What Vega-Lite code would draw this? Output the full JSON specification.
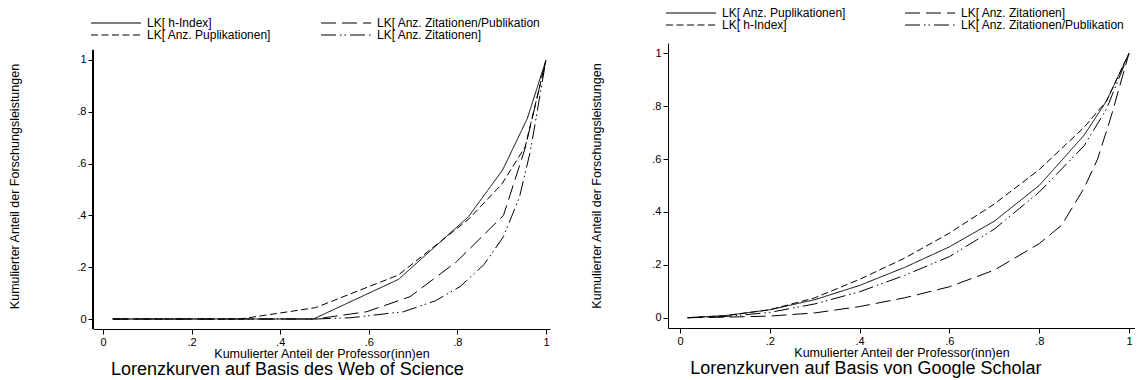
{
  "$schema": "https://vega.github.io/schema/vega-lite/v6.json",
  "padding": {"left": 8, "top": 7, "right": 0, "bottom": 0},
  "background": "white",
  "bounds": "flush",
  "spacing": 118,
  "datasets": {
    "wos": [
      {"s": "LK[ h-Index]", "x": 0.022, "y": 0},
      {"s": "LK[ h-Index]", "x": 0.475, "y": 0},
      {"s": "LK[ h-Index]", "x": 0.667, "y": 0.153},
      {"s": "LK[ h-Index]", "x": 0.825, "y": 0.395},
      {"s": "LK[ h-Index]", "x": 0.902, "y": 0.575},
      {"s": "LK[ h-Index]", "x": 0.958, "y": 0.775},
      {"s": "LK[ h-Index]", "x": 1, "y": 1},
      {"s": "LK[ Anz. Puplikationen]", "x": 0.022, "y": 0},
      {"s": "LK[ Anz. Puplikationen]", "x": 0.31, "y": 0},
      {"s": "LK[ Anz. Puplikationen]", "x": 0.48, "y": 0.044},
      {"s": "LK[ Anz. Puplikationen]", "x": 0.667, "y": 0.17},
      {"s": "LK[ Anz. Puplikationen]", "x": 0.825, "y": 0.385},
      {"s": "LK[ Anz. Puplikationen]", "x": 0.9, "y": 0.52},
      {"s": "LK[ Anz. Puplikationen]", "x": 0.953, "y": 0.665},
      {"s": "LK[ Anz. Puplikationen]", "x": 1, "y": 1},
      {"s": "LK[ Anz. Zitationen/Publikation", "x": 0.022, "y": 0},
      {"s": "LK[ Anz. Zitationen/Publikation", "x": 0.48, "y": 0},
      {"s": "LK[ Anz. Zitationen/Publikation", "x": 0.595, "y": 0.028},
      {"s": "LK[ Anz. Zitationen/Publikation", "x": 0.693, "y": 0.086},
      {"s": "LK[ Anz. Zitationen/Publikation", "x": 0.798, "y": 0.221},
      {"s": "LK[ Anz. Zitationen/Publikation", "x": 0.904, "y": 0.4},
      {"s": "LK[ Anz. Zitationen/Publikation", "x": 0.953, "y": 0.66},
      {"s": "LK[ Anz. Zitationen/Publikation", "x": 1, "y": 1},
      {"s": "LK[ Anz. Zitationen]", "x": 0.022, "y": 0},
      {"s": "LK[ Anz. Zitationen]", "x": 0.48, "y": 0},
      {"s": "LK[ Anz. Zitationen]", "x": 0.56, "y": 0.005},
      {"s": "LK[ Anz. Zitationen]", "x": 0.678, "y": 0.028},
      {"s": "LK[ Anz. Zitationen]", "x": 0.75, "y": 0.07},
      {"s": "LK[ Anz. Zitationen]", "x": 0.806, "y": 0.125},
      {"s": "LK[ Anz. Zitationen]", "x": 0.86, "y": 0.21},
      {"s": "LK[ Anz. Zitationen]", "x": 0.904, "y": 0.318},
      {"s": "LK[ Anz. Zitationen]", "x": 0.94, "y": 0.47},
      {"s": "LK[ Anz. Zitationen]", "x": 0.965, "y": 0.65},
      {"s": "LK[ Anz. Zitationen]", "x": 1, "y": 1}
    ],
    "gs": [
      {"s": "LK[ h-Index]", "x": 0.017, "y": 0},
      {"s": "LK[ h-Index]", "x": 0.1, "y": 0.007},
      {"s": "LK[ h-Index]", "x": 0.2, "y": 0.03},
      {"s": "LK[ h-Index]", "x": 0.3, "y": 0.075},
      {"s": "LK[ h-Index]", "x": 0.4, "y": 0.145},
      {"s": "LK[ h-Index]", "x": 0.5, "y": 0.225},
      {"s": "LK[ h-Index]", "x": 0.6, "y": 0.32},
      {"s": "LK[ h-Index]", "x": 0.7, "y": 0.43},
      {"s": "LK[ h-Index]", "x": 0.8, "y": 0.56},
      {"s": "LK[ h-Index]", "x": 0.9, "y": 0.72},
      {"s": "LK[ h-Index]", "x": 0.95, "y": 0.82},
      {"s": "LK[ h-Index]", "x": 1, "y": 1},
      {"s": "LK[ Anz. Puplikationen]", "x": 0.017, "y": 0},
      {"s": "LK[ Anz. Puplikationen]", "x": 0.1, "y": 0.008},
      {"s": "LK[ Anz. Puplikationen]", "x": 0.2, "y": 0.03},
      {"s": "LK[ Anz. Puplikationen]", "x": 0.3, "y": 0.068},
      {"s": "LK[ Anz. Puplikationen]", "x": 0.4, "y": 0.122},
      {"s": "LK[ Anz. Puplikationen]", "x": 0.5, "y": 0.19},
      {"s": "LK[ Anz. Puplikationen]", "x": 0.6, "y": 0.268},
      {"s": "LK[ Anz. Puplikationen]", "x": 0.7, "y": 0.365},
      {"s": "LK[ Anz. Puplikationen]", "x": 0.8, "y": 0.5},
      {"s": "LK[ Anz. Puplikationen]", "x": 0.9, "y": 0.69},
      {"s": "LK[ Anz. Puplikationen]", "x": 0.95, "y": 0.82},
      {"s": "LK[ Anz. Puplikationen]", "x": 1, "y": 1},
      {"s": "LK[ Anz. Zitationen]", "x": 0.017, "y": 0},
      {"s": "LK[ Anz. Zitationen]", "x": 0.1, "y": 0.002},
      {"s": "LK[ Anz. Zitationen]", "x": 0.2, "y": 0.006},
      {"s": "LK[ Anz. Zitationen]", "x": 0.3, "y": 0.018},
      {"s": "LK[ Anz. Zitationen]", "x": 0.4, "y": 0.042},
      {"s": "LK[ Anz. Zitationen]", "x": 0.5, "y": 0.075},
      {"s": "LK[ Anz. Zitationen]", "x": 0.6, "y": 0.117},
      {"s": "LK[ Anz. Zitationen]", "x": 0.7, "y": 0.18},
      {"s": "LK[ Anz. Zitationen]", "x": 0.8, "y": 0.28},
      {"s": "LK[ Anz. Zitationen]", "x": 0.85, "y": 0.35},
      {"s": "LK[ Anz. Zitationen]", "x": 0.9, "y": 0.49},
      {"s": "LK[ Anz. Zitationen]", "x": 0.93, "y": 0.6},
      {"s": "LK[ Anz. Zitationen]", "x": 0.96, "y": 0.76},
      {"s": "LK[ Anz. Zitationen]", "x": 1, "y": 1},
      {"s": "LK[ Anz. Zitationen/Publikation", "x": 0.017, "y": 0},
      {"s": "LK[ Anz. Zitationen/Publikation", "x": 0.1, "y": 0.004},
      {"s": "LK[ Anz. Zitationen/Publikation", "x": 0.2, "y": 0.02},
      {"s": "LK[ Anz. Zitationen/Publikation", "x": 0.3, "y": 0.052},
      {"s": "LK[ Anz. Zitationen/Publikation", "x": 0.4, "y": 0.098},
      {"s": "LK[ Anz. Zitationen/Publikation", "x": 0.5, "y": 0.16},
      {"s": "LK[ Anz. Zitationen/Publikation", "x": 0.6, "y": 0.231},
      {"s": "LK[ Anz. Zitationen/Publikation", "x": 0.7, "y": 0.335},
      {"s": "LK[ Anz. Zitationen/Publikation", "x": 0.8, "y": 0.475},
      {"s": "LK[ Anz. Zitationen/Publikation", "x": 0.9, "y": 0.65},
      {"s": "LK[ Anz. Zitationen/Publikation", "x": 0.95, "y": 0.79},
      {"s": "LK[ Anz. Zitationen/Publikation", "x": 1, "y": 1}
    ]
  },
  "hconcat": [
    {
      "width": 457,
      "height": 286,
      "title": {"text": "Lorenzkurven auf Basis des Web of Science", "orient": "bottom", "frame": "bounds", "anchor": "middle", "offset": 1, "dx": 8},
      "data": {"name": "wos"},
      "layer": [
        {
          "mark": {"type": "rule", "color": "black", "strokeWidth": 1},
          "encoding": {
            "x": {"datum": -0.02257, "type": "quantitative"},
            "y": {"datum": -0.0386, "type": "quantitative"},
            "y2": {"datum": 1.0386}
          }
        },
        {
          "mark": {"type": "line", "color": "black", "strokeWidth": 1},
          "encoding": {
            "x": {
              "field": "x", "type": "quantitative",
              "scale": {"domain": [-0.02257, 1.00903], "nice": false, "zero": false},
              "axis": {"title": "Kumulierter Anteil der Professor(inn)en", "values": [0, 0.2, 0.4, 0.6, 0.8, 1],
                "labelExpr": "datum.value == 0 ? '0' : datum.value == 1 ? '1' : replace(format(datum.value, '.1f'), '0.', '.')"}
            },
            "y": {
              "field": "y", "type": "quantitative",
              "scale": {"domain": [-0.0386, 1.0656], "nice": false, "zero": false},
              "axis": {"title": "Kumulierter Anteil der Forschungsleistungen", "domain": false, "titlePadding": 55, "values": [0, 0.2, 0.4, 0.6, 0.8, 1],
                "labelExpr": "datum.value == 0 ? '0' : datum.value == 1 ? '1' : replace(format(datum.value, '.1f'), '0.', '.')"}
            },
            "strokeDash": {
              "field": "s", "type": "nominal",
              "scale": {
                "domain": ["LK[ h-Index]", "LK[ Anz. Zitationen/Publikation", "LK[ Anz. Puplikationen]", "LK[ Anz. Zitationen]"],
                "range": [[1, 0], [15, 6], [7, 3.5], [15, 4, 1.5, 3, 1.5, 4]]
              },
              "legend": {"columnPadding": 47, "offset": 2}
            }
          }
        }
      ]
    },
    {
      "width": 467,
      "height": 285,
      "title": {"text": "Lorenzkurven auf Basis von Google Scholar", "orient": "bottom", "frame": "bounds", "anchor": "middle", "offset": 1, "dx": 3},
      "data": {"name": "gs"},
      "mark": {"type": "line", "color": "black", "strokeWidth": 1},
      "encoding": {
        "x": {
          "field": "x", "type": "quantitative",
          "scale": {"domain": [-0.02673, 1.01336], "nice": false, "zero": false},
          "axis": {"title": "Kumulierter Anteil der Professor(inn)en", "values": [0, 0.2, 0.4, 0.6, 0.8, 1],
            "labelExpr": "datum.value == 0 ? '0' : datum.value == 1 ? '1' : replace(format(datum.value, '.1f'), '0.', '.')"}
        },
        "y": {
          "field": "y", "type": "quantitative",
          "scale": {"domain": [-0.039, 1.039], "nice": false, "zero": false},
          "axis": {"title": "Kumulierter Anteil der Forschungsleistungen", "titlePadding": 48, "values": [0, 0.2, 0.4, 0.6, 0.8, 1],
            "labelExpr": "datum.value == 0 ? '0' : datum.value == 1 ? '1' : replace(format(datum.value, '.1f'), '0.', '.')"}
        },
        "strokeDash": {
          "field": "s", "type": "nominal",
          "scale": {
            "domain": ["LK[ Anz. Puplikationen]", "LK[ Anz. Zitationen]", "LK[ h-Index]", "LK[ Anz. Zitationen/Publikation"],
            "range": [[1, 0], [15, 6], [7, 3.5], [15, 4, 1.5, 3, 1.5, 4]]
          },
          "legend": {"columnPadding": 56, "offset": 12}
        }
      }
    }
  ],
  "resolve": {"scale": {"strokeDash": "independent", "x": "independent", "y": "independent"}, "legend": {"strokeDash": "independent"}},
  "config": {
    "font": "Liberation Sans",
    "view": {"stroke": null},
    "axis": {
      "grid": false, "domainColor": "black", "tickColor": "black", "tickSize": 5, "domainWidth": 1, "tickWidth": 1,
      "labelColor": "black", "labelFontSize": 11, "labelFont": "Liberation Sans", "labelPadding": 2,
      "titleColor": "black", "titleFontWeight": "normal", "titleFont": "Liberation Sans", "titleFontSize": 12.5
    },
    "axisX": {"titlePadding": 0, "labelFlush": false},
    "legend": {
      "orient": "top", "columns": 2, "title": null, "symbolType": "M-2,0H10.5", "symbolSize": 64,
      "symbolStrokeWidth": 1, "symbolStrokeColor": "black", "labelFont": "Liberation Sans", "labelFontSize": 12,
      "labelColor": "black", "labelOffset": 42, "rowPadding": 0, "labelLimit": 300, "padding": 0
    },
    "title": {"fontSize": 18, "fontWeight": "normal", "font": "Liberation Sans", "color": "black"}
  }
}
